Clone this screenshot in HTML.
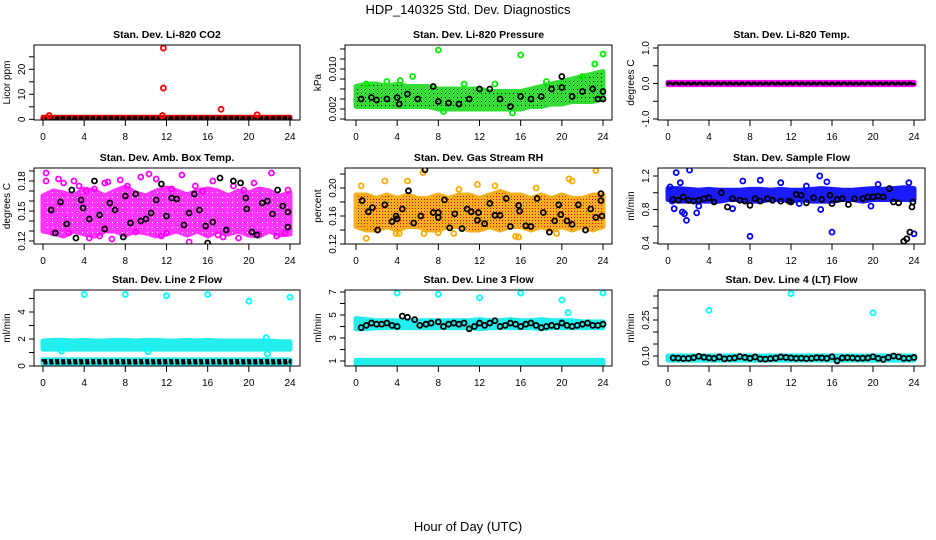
<!DOCTYPE html>
<html><head><meta charset="utf-8"><style>
html,body{margin:0;padding:0;background:#fff}
svg{display:block;font-family:"Liberation Sans",sans-serif}
</style></head><body>
<svg id="c" width="936" height="540" viewBox="0 0 936 540">
<defs>
<pattern id="dotBlack" width="4" height="4" patternUnits="userSpaceOnUse"><rect x="1" y="1" width="1" height="1" fill="#000"/></pattern>
<pattern id="dotRed" width="3" height="3" patternUnits="userSpaceOnUse"><rect x="1" y="1" width="1" height="1" fill="#e00000"/></pattern>
<pattern id="dotWhite" width="5" height="5" patternUnits="userSpaceOnUse"><rect x="2" y="2" width="1" height="1" fill="#fff"/></pattern>
</defs>
<text x="468" y="14" text-anchor="middle" font-size="13">HDP_140325  Std. Dev. Diagnostics</text>
<text x="468" y="531" text-anchor="middle" font-size="13">Hour of Day (UTC)</text>
</svg>
<script>
// ---- data ----
const hours=[0,1,2,3,4,5,6,7,8,9,10,11,12,13,14,15,16,17,18,19,20,21,22,23,24];
const xTicks=[0,4,8,12,16,20,24];
// P1 CO2
const co2BandLo=[0,0,0,0,0,0,0,0,0,0,0,0,0,0,0,0,0,0,0,0,0,0,0,0,0];
const co2BandHi=[0.8,0.8,0.8,0.8,0.8,0.8,0.8,0.8,0.8,0.8,0.8,0.8,0.8,0.8,0.8,0.8,0.8,0.8,0.8,0.8,0.8,0.8,0.8,0.8,0.8];
const co2OutX=[11.7,11.7,11.6,17.3,20.8,0.6,0.3];
const co2OutY=[28.5,12.5,1.5,4,1.8,1.5,0.5];
// P2 Pressure (x0.001 kPa)
const presLo=[2.5,2.5,2.5,2.5,2.5,2.5,2.5,2.5,2,2,2,2,2,2,2,2,2,2.5,2.5,3,3,3.5,3.5,3.5,4];
const presHi=[6.5,7,7,6.5,7,6.5,6.5,6.5,6,6,6,6,6,5.5,5.5,5.5,5.5,6,6.5,7,7.5,8,8.5,9,9.5];
const presOutX=[8,16,24,15.2,8.5,5.5,4.3,23.2,22,1,3,10.5,13.5,18.5];
const presOutY=[13.8,12.8,13,1.2,1.5,8.5,7.7,11,8.5,7,7.5,7,7,7.5];
const presBlkX=[0.5,1.5,2,3,4,4.2,5,6,7.5,8,9,10,11,12,13,14,15,16,17,18,19,20,20,21,22,23,23.5,24,24];
const presBlkY=[4,4.3,3.8,4,4.3,3,5,4,6.5,3.5,3.2,3,4,6,6,4,2.5,4.5,4,4.5,6,8.5,6.3,4.5,5.5,6,4,5.5,4];
// P3 Temp
const tempLo=hours.map(()=>-0.03), tempHi=hours.map(()=>0.03);
// P4 Amb box temp
const ambLo=[0.13,0.128,0.125,0.13,0.127,0.125,0.13,0.13,0.126,0.13,0.128,0.125,0.127,0.13,0.126,0.13,0.125,0.13,0.127,0.13,0.126,0.125,0.13,0.126,0.127];
const ambHi=[0.165,0.17,0.168,0.165,0.172,0.17,0.165,0.17,0.174,0.168,0.165,0.17,0.173,0.17,0.166,0.17,0.172,0.17,0.165,0.17,0.168,0.172,0.17,0.165,0.168];
const ambOutX=[0.3,0.3,1.5,2,2.5,3,3.5,4.2,4.5,5,5.5,6,6.7,7.5,8.2,9,9.5,10.3,11,11.5,12.5,13.5,14.2,14.8,15.5,16.5,17.5,18.5,19.5,20.5,21,22.2,22.7,23.5,23.8,1,6.3,12,17,19];
const ambOutY=[0.188,0.18,0.182,0.178,0.128,0.18,0.175,0.17,0.123,0.172,0.125,0.178,0.122,0.181,0.175,0.129,0.184,0.187,0.182,0.125,0.172,0.186,0.119,0.175,0.17,0.18,0.124,0.175,0.171,0.178,0.127,0.188,0.125,0.128,0.171,0.128,0.179,0.128,0.126,0.123];
const ambBlkX=[0.8,1.2,1.7,2.3,2.8,3.2,3.7,3.9,4.5,5,5.5,6,6.5,7,7.8,8,8.5,9,9.5,10,10.5,11,11.5,12,12.5,13,13.7,14.2,14.7,15.2,15.8,16,16.5,17.2,17.8,18.5,19.2,19.7,19.8,20.3,20.8,21.3,21.8,22.3,22.8,23.3,23.8,23.8];
const ambBlkY=[0.151,0.128,0.159,0.137,0.171,0.123,0.161,0.153,0.142,0.180,0.146,0.132,0.158,0.151,0.124,0.165,0.138,0.167,0.14,0.142,0.148,0.161,0.177,0.145,0.163,0.162,0.136,0.148,0.167,0.151,0.135,0.118,0.139,0.183,0.131,0.18,0.178,0.163,0.152,0.129,0.126,0.158,0.16,0.147,0.171,0.155,0.134,0.149];
// P5 Gas stream RH
const rhLo=[0.145,0.14,0.14,0.145,0.14,0.145,0.145,0.14,0.14,0.145,0.145,0.14,0.14,0.145,0.14,0.145,0.145,0.14,0.145,0.14,0.145,0.14,0.145,0.14,0.145];
const rhHi=[0.19,0.19,0.185,0.19,0.185,0.19,0.185,0.185,0.19,0.185,0.19,0.19,0.185,0.19,0.195,0.19,0.19,0.185,0.19,0.185,0.19,0.185,0.185,0.19,0.19];
const rhOutX=[0.5,1,1.3,2.8,4.2,5,6.5,6.6,8,10,11.8,13.5,15.5,17.5,19.5,20.7,21,23.3,23.6,3.9,9.5,15.8];
const rhOutY=[0.203,0.128,0.145,0.21,0.135,0.21,0.222,0.135,0.136,0.198,0.205,0.203,0.131,0.2,0.135,0.213,0.21,0.225,0.18,0.135,0.135,0.13];
const rhBlkX=[0.6,1.2,1.6,2.1,2.8,3.5,3.9,4,4.5,5.1,5.6,6.3,6.7,7.5,8,8,8.6,9.1,9.6,10.3,10.8,11.2,11.8,11.9,12.5,13,13.5,14,14.6,15,15.8,15.9,16.5,17,17.6,18.2,18.8,19.3,19.7,19.9,20.5,21,21.6,22.3,22.8,23.3,23.8,23.9,23.8];
const rhBlkY=[0.182,0.166,0.172,0.14,0.176,0.152,0.16,0.156,0.17,0.196,0.15,0.16,0.226,0.165,0.165,0.158,0.183,0.143,0.163,0.142,0.17,0.166,0.154,0.165,0.149,0.178,0.161,0.161,0.185,0.145,0.175,0.167,0.146,0.145,0.185,0.165,0.137,0.153,0.176,0.162,0.153,0.148,0.176,0.14,0.17,0.158,0.192,0.16,0.182];
// P6 Sample flow
const sfLo=[0.92,0.9,0.9,0.9,0.9,0.9,0.92,0.92,0.9,0.9,0.92,0.92,0.9,0.92,0.9,0.9,0.9,0.92,0.92,0.9,0.92,0.92,0.92,0.92,0.92];
const sfHi=[1.05,1.05,1.04,1.03,1.04,1.03,1.03,1.03,1.04,1.04,1.03,1.04,1.03,1.03,1.04,1.05,1.04,1.03,1.03,1.04,1.05,1.04,1.05,1.06,1.05];
const sfOutX=[0.2,0.4,0.8,1.2,1.4,1.6,1.8,2.1,2.8,3,7.3,8,9,11,13.5,14.8,14.9,16,15.5,19.8,20.5,23.5,24,0.6,6.3,12.8];
const sfOutY=[1.07,0.9,1.24,1.12,0.77,0.75,0.67,1.27,0.76,0.84,1.14,0.48,1.15,1.12,1.08,1.2,0.8,0.53,1.13,0.84,1.1,1.12,0.51,0.81,0.81,0.87];
const sfBlkX=[0.5,1,1.5,2,2.5,3,3.5,4,4.5,5.2,5.8,6.3,7,7.5,8,8.5,9,9.7,10.2,11,11.8,12,12.5,13,13.5,14.2,15,15.8,16,16.5,17,17.6,18.2,19,19.5,20,20.5,21,21.6,22,22.5,23,23.3,23.6,23.8,23.9];
const sfBlkY=[0.92,0.91,0.95,0.91,0.9,0.91,0.93,0.94,0.89,1.0,0.83,0.93,0.91,0.9,0.85,0.93,0.9,0.93,0.91,0.9,0.9,0.89,0.98,0.97,0.88,0.94,0.92,0.97,0.87,0.92,0.93,0.86,0.93,0.93,0.95,0.95,0.96,0.95,1.05,0.89,0.88,0.42,0.45,0.53,0.83,0.89];
// P7 Line 2 flow
const l2aLo=hours.map(()=>1.25), l2aHi=[1.85,1.9,1.9,1.85,1.9,1.85,1.85,1.9,1.9,1.85,1.9,1.9,1.85,1.85,1.9,1.85,1.9,1.85,1.85,1.85,1.85,1.85,1.85,1.8,1.8];
const l2bLo=hours.map(()=>0.2), l2bHi=hours.map(()=>0.45);
const l2OutX=[4,8,12,16,20,24,21.7,21.8,1.8,10.2];
const l2OutY=[5.3,5.3,5.2,5.3,4.8,5.1,2.1,0.9,1.1,1.05];
// P8 Line 3 flow
const l3aLo=hours.map(()=>0.75), l3aHi=hours.map(()=>1.05);
const l3bLo=[3.8,3.8,3.9,3.9,3.9,3.9,3.9,3.9,3.9,3.9,3.9,3.9,3.8,3.9,3.9,3.9,3.9,3.9,3.8,3.9,3.9,3.9,3.9,3.9,3.9];
const l3bHi=[4.7,4.6,4.5,4.5,4.5,4.5,4.5,4.5,4.5,4.5,4.5,4.5,4.6,4.5,4.5,4.6,4.5,4.5,4.6,4.5,4.5,4.5,4.4,4.4,4.4];
const l3OutX=[4,8,12,16,20,20.6,24];
const l3OutY=[6.9,6.8,6.5,6.9,6.3,5.2,6.9];
const l3BlkX=[0.5,1,1.5,2,2.5,3,3.5,4,4.5,5,5.7,6.2,6.8,7.3,8,8.5,9,9.5,10,10.5,11,11.5,12,12.5,13,13.5,14,14.5,15,15.5,16,16.5,17,17.5,18,18.5,19,19.5,20,20.5,21,21.5,22,22.5,23,23.5,24];
const l3BlkY=[3.9,4.1,4.3,4.2,4.2,4.3,4.1,4.0,4.9,4.8,4.6,4.1,4.2,4.3,4.4,4.0,4.2,4.3,4.2,4.3,3.8,4.0,4.3,4.1,4.3,4.5,4.0,4.1,4.3,4.2,4.0,4.2,4.3,4.1,3.9,4.0,4.1,4.0,4.3,4.1,4.0,4.1,4.2,4.3,4.1,4.1,4.2];
// P9 Line 4 flow
const l4Lo=hours.map(()=>0.083), l4Hi=hours.map(()=>0.1);
const l4OutX=[4,12,20];
const l4OutY=[0.29,0.36,0.28];
const l4BlkX=[0.5,1,1.5,2,2.5,3,3.5,4,4.5,5,5.5,6,6.5,7,7.5,8,8.5,9,9.5,10,10.5,11,11.5,12,12.5,13,13.5,14,14.5,15,15.5,16,16.5,17,17.5,18,18.5,19,19.5,20,20.5,21,21.5,22,22.5,23,23.5,24];
const l4BlkY=[0.092,0.091,0.089,0.09,0.093,0.099,0.095,0.092,0.09,0.096,0.088,0.09,0.092,0.098,0.094,0.09,0.096,0.088,0.087,0.089,0.091,0.096,0.094,0.092,0.09,0.091,0.089,0.09,0.093,0.092,0.09,0.097,0.08,0.092,0.093,0.092,0.09,0.091,0.092,0.097,0.09,0.086,0.094,0.1,0.097,0.09,0.09,0.094];

// ---- layout ----
const NS='http://www.w3.org/2000/svg';
const svg=document.getElementById('c');
function mk(tag,attrs,parent){const e=document.createElementNS(NS,tag);for(const k in attrs)e.setAttribute(k,attrs[k]);(parent||svg).appendChild(e);return e;}
const cols=[{l:34,r:300,x0:43,x24:290},{l:345,r:612,x0:356,x24:603},{l:658,r:925,x0:668,x24:914}];
const rows=[{t:45,b:120,title:34},{t:168,b:244,title:157},{t:290,b:366,title:279}];

const panels=[
 {name:'co2',title:'Stan. Dev. Li-820 CO2',ylab:'Licor ppm',c:0,r:0,yv:[0,20],yp:[119.3,69.3],ticks:[0,5,10,15,20,25],labs:[0,10,20],
  bands:[{lo:co2BandLo,hi:co2BandHi,fill:'#e00000'}],
  pts:[{x:co2OutX,y:co2OutY,col:'#ff0000'}],blackBand:{lo:hours.map(()=>0.1),hi:hours.map(()=>0.6)}},
 {name:'pressure',title:'Stan. Dev. Li-820 Pressure',ylab:'kPa',c:1,r:0,yv:[2,10],yp:[109,69],ticks:[0,2,4,6,8,10,12,14],labs:[2,10],fmt:v=>(v/1000).toFixed(3),
  bands:[{lo:presLo,hi:presHi,fill:'#33dd33',tex:'dotBlack'}],pts:[{x:presOutX,y:presOutY,col:'#00ee00'},{x:presBlkX,y:presBlkY,col:'#000'}]},
 {name:'temp',title:'Stan. Dev. Li-820 Temp.',ylab:'degrees C',c:2,r:0,yv:[-1,1],yp:[119,48],ticks:[-1,-0.5,0,0.5,1],labs:[-1,0,1],fmt:v=>v.toFixed(1),
  bands:[{lo:tempLo,hi:tempHi,fill:'#ff00ff'}],pts:[],blackBand:{lo:hours.map(()=>-0.015),hi:hours.map(()=>0.015)}},
 {name:'amb-box-temp',title:'Stan. Dev. Amb. Box Temp.',ylab:'degrees C',c:0,r:1,yv:[0.12,0.18],yp:[241,181],ticks:[0.12,0.13,0.14,0.15,0.16,0.17,0.18,0.19],labs:[0.12,0.15,0.18],fmt:v=>v.toFixed(2),
  bands:[{lo:ambLo,hi:ambHi,fill:'#ff33ff',tex:'dotWhite'}],pts:[{x:ambOutX,y:ambOutY,col:'#ff00ff'},{x:ambBlkX,y:ambBlkY,col:'#000'}]},
 {name:'gas-stream-rh',title:'Stan. Dev. Gas Stream RH',ylab:'percent',c:1,r:1,yv:[0.12,0.20],yp:[244,188],ticks:[0.12,0.14,0.16,0.18,0.20,0.22],labs:[0.12,0.16,0.20],fmt:v=>v.toFixed(2),
  bands:[{lo:rhLo,hi:rhHi,fill:'#f5b020',tex:'dotRed'}],pts:[{x:rhOutX,y:rhOutY,col:'#ffaa00'},{x:rhBlkX,y:rhBlkY,col:'#000'}]},
 {name:'sample-flow',title:'Stan. Dev. Sample Flow',ylab:'ml/min',c:2,r:1,yv:[0.4,1.2],yp:[243,176],ticks:[0.4,0.6,0.8,1.0,1.2],labs:[0.4,0.8,1.2],fmt:v=>v.toFixed(1),
  bands:[{lo:sfLo,hi:sfHi,fill:'#1a1aff'}],pts:[{x:sfOutX,y:sfOutY,col:'#0000ff'},{x:sfBlkX,y:sfBlkY,col:'#000'}]},
 {name:'line2-flow',title:'Stan. Dev. Line 2 Flow',ylab:'ml/min',c:0,r:2,yv:[0,4],yp:[366,312],ticks:[0,1,2,3,4,5],labs:[0,2,4],
  bands:[{lo:l2aLo,hi:l2aHi,fill:'#22eeee'},{lo:l2bLo,hi:l2bHi,fill:'#22eeee'}],pts:[{x:l2OutX,y:l2OutY,col:'#00ffff'}],blackBand:{lo:hours.map(()=>0.22),hi:hours.map(()=>0.4)}},
 {name:'line3-flow',title:'Stan. Dev. Line 3 Flow',ylab:'ml/min',c:1,r:2,yv:[1,7],yp:[361,292],ticks:[1,2,3,4,5,6,7],labs:[1,3,5,7],
  bands:[{lo:l3aLo,hi:l3aHi,fill:'#22eeee'},{lo:l3bLo,hi:l3bHi,fill:'#22eeee'}],pts:[{x:l3OutX,y:l3OutY,col:'#00ffff'},{x:l3BlkX,y:l3BlkY,col:'#000'}]},
 {name:'line4-flow',title:'Stan. Dev. Line 4 (LT) Flow',ylab:'ml/min',c:2,r:2,yv:[0.10,0.25],yp:[356,320],ticks:[0.10,0.15,0.20,0.25,0.30,0.35],labs:[0.10,0.25],fmt:v=>v.toFixed(2),
  bands:[{lo:l4Lo,hi:l4Hi,fill:'#22eeee'}],pts:[{x:l4OutX,y:l4OutY,col:'#00ffff'},{x:l4BlkX,y:l4BlkY,col:'#000'}]}
];

panels.forEach(p=>{
  const C=cols[p.c],R=rows[p.r];
  const xs=h=>C.x0+(C.x24-C.x0)*h/24;
  const ys=v=>p.yp[0]+(v-p.yv[0])*(p.yp[1]-p.yp[0])/(p.yv[1]-p.yv[0]);
  const g=mk('g',{});
  
  
  mk('defs',{},g).innerHTML=`<clipPath id="cl-${p.name}"><rect x="${C.l}" y="${R.t}" width="${C.r-C.l}" height="${R.b-R.t}"/></clipPath>`;
  const pg=mk('g',{'clip-path':`url(#cl-${p.name})`},g);
  p.bands.forEach((b,i)=>{
    let d='M'+hours.map((h,j)=>xs(h)+','+ys(b.hi[j])).join('L')+'L'+hours.slice().reverse().map((h,j)=>xs(h)+','+ys(b.lo[24-j])).join('L')+'Z';
    const e=mk('path',{d:d,fill:b.fill,stroke:b.fill,'stroke-width':5,'stroke-linejoin':'round'},pg);
    
    
    if(b.tex){
      const t=mk('path',{d:d,fill:`url(#${b.tex})`,stroke:'none'},pg);
      
      
    }
  });
  if(p.blackBand){
    const b=p.blackBand;
    let d='M'+hours.map((h,j)=>xs(h)+','+ys(b.hi[j])).join('L')+'L'+hours.slice().reverse().map((h,j)=>xs(h)+','+ys(b.lo[24-j])).join('L')+'Z';
    const e=mk('path',{d:d,fill:'none',stroke:'#000','stroke-width':3,'stroke-dasharray':'4 2'},pg);
    
    
  }
  p.pts.forEach(s=>{
    s.x.forEach((h,i)=>{
      const e=mk('circle',{cx:xs(h),cy:ys(s.y[i]),r:2.5,fill:'none',stroke:s.col,'stroke-width':1.8},pg);
      
      
    });
  });
  mk('rect',{x:C.l,y:R.t,width:C.r-C.l,height:R.b-R.t,fill:'none',stroke:'#000','stroke-width':1},g);
  const t=mk('text',{x:(C.l+C.r)/2,y:R.title+4,'text-anchor':'middle','font-size':10.5,'font-weight':'bold'},g);
  t.textContent=p.title;
  
  
  mk('line',{x1:xs(0),x2:xs(24),y1:R.b,y2:R.b,stroke:'#000'},g);
  xTicks.forEach(h=>{
    mk('line',{x1:xs(h),x2:xs(h),y1:R.b,y2:R.b+6,stroke:'#000'},g);
    const l=mk('text',{x:xs(h),y:R.b+20,'text-anchor':'middle','font-size':10},g);
    l.textContent=h;
    
    
  });
  const fmt=p.fmt||(v=>String(v));
  p.ticks.forEach(v=>{const y=ys(v);if(y<R.t-3||y>R.b+3)return;mk('line',{x1:C.l-5,x2:C.l,y1:y,y2:y,stroke:'#000'},g);});
  p.labs.forEach(v=>{
    const y=ys(v),x=C.l-9;
    const l=mk('text',{x:x,y:y,'text-anchor':'middle','font-size':10,transform:`rotate(-90 ${x} ${y})`},g);
    l.textContent=fmt(v);
    
    
  });
  const ym=(R.t+R.b)/2,xl=C.l-24;
  const yl=mk('text',{x:xl,y:ym,'text-anchor':'middle','font-size':10,transform:`rotate(-90 ${xl} ${ym})`},g);
  yl.textContent=p.ylab;
  
  
});
</script>
</body></html>
